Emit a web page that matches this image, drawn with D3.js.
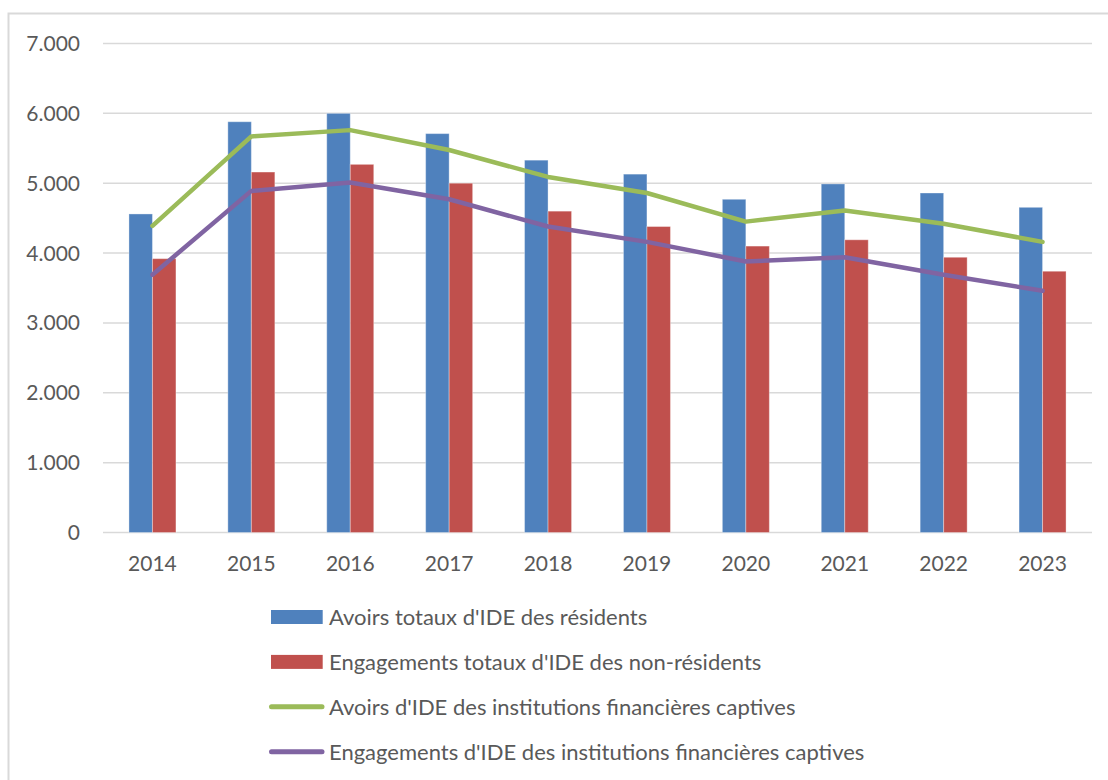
<!DOCTYPE html>
<html>
<head>
<meta charset="utf-8">
<script src="https://cdn.jsdelivr.net/npm/d3@7"></script>
<style>
    body { margin: 0; background: #fff; }
    svg { display: block; font-family: Lato, "Noto Sans", sans-serif; }
</style>
</head>
<body>
<svg id="chart" width="1108" height="780"></svg>
<script>
const years = ['2014', '2015', '2016', '2017', '2018', '2019', '2020', '2021', '2022', '2023'];
const avoirsTotaux = [4560, 5880, 6000, 5710, 5330, 5130, 4770, 4990, 4860, 4655];
const engagementsTotaux = [3920, 5160, 5270, 5000, 4600, 4380, 4100, 4190, 3940, 3740];
const avoirsCaptives = [4390, 5670, 5760, 5475, 5090, 4860, 4450, 4610, 4420, 4160];
const engagementsCaptives = [3690, 4890, 5010, 4770, 4380, 4160, 3880, 3940, 3690, 3460];
const yTicks = [0, 1000, 2000, 3000, 4000, 5000, 6000, 7000];
const legendNames = [
    "Avoirs totaux d'IDE des résidents",
    "Engagements totaux d'IDE des non-résidents",
    "Avoirs d'IDE des institutions financières captives",
    "Engagements d'IDE des institutions financières captives"
];

const colors = ['#4f81bd', '#c0504d', '#9bbb59', '#8064a2'];
const svg = d3.select('#chart');

// outer frame (only left and top edges are visible in the picture)
svg.append('rect')
    .attr('x', 8.5).attr('y', 13.5)
    .attr('width', 1300).attr('height', 1000)
    .attr('fill', 'none')
    .attr('stroke', '#d9d9d9')
    .attr('stroke-width', 2);

const plot = { left: 103, right: 1092, top: 43.5, bottom: 532.5 };

const x = d3.scaleBand()
    .domain(years)
    .range([plot.left, plot.right]);

const y = d3.scaleLinear()
    .domain([0, 7000])
    .range([plot.bottom, plot.top]);

const fmt = v => d3.format(',')(v).replace(/,/g, '.');

// gridlines
svg.append('g')
    .selectAll('line')
    .data(yTicks)
    .enter()
    .append('line')
    .attr('x1', plot.left).attr('x2', plot.right)
    .attr('y1', d => y(d)).attr('y2', d => y(d))
    .attr('stroke', '#d9d9d9')
    .attr('stroke-width', 1.5);

// y labels
svg.append('g')
    .selectAll('text')
    .data(yTicks)
    .enter()
    .append('text')
    .attr('x', 80)
    .attr('y', d => y(d))
    .attr('dy', '0.36em')
    .attr('text-anchor', 'end')
    .attr('fill', '#595959')
    .attr('font-size', 21)
    .text(d => fmt(d));

// x labels
svg.append('g')
    .selectAll('text')
    .data(years)
    .enter()
    .append('text')
    .attr('x', d => x(d) + x.bandwidth() / 2)
    .attr('y', 571)
    .attr('text-anchor', 'middle')
    .attr('fill', '#595959')
    .attr('font-size', 21)
    .text(d => d);

// bars
const barW = 23.5;
const barSeries = [avoirsTotaux, engagementsTotaux];
barSeries.forEach((values, i) => {
    svg.append('g')
        .selectAll('rect')
        .data(values)
        .enter()
        .append('rect')
        .attr('x', (d, j) => x(years[j]) + x.bandwidth() / 2 - barW + i * barW)
        .attr('y', d => y(d))
        .attr('width', barW)
        .attr('height', d => y(0) - y(d))
        .attr('fill', colors[i])
        .attr('stroke', '#ffffff')
        .attr('stroke-opacity', 0.35)
        .attr('stroke-width', 1);
});

// lines
const line = d3.line()
    .x((d, j) => x(years[j]) + x.bandwidth() / 2)
    .y(d => y(d));

[avoirsCaptives, engagementsCaptives].forEach((values, i) => {
    svg.append('path')
        .datum(values)
        .attr('d', line)
        .attr('fill', 'none')
        .attr('stroke', colors[i + 2])
        .attr('stroke-width', 4.5)
        .attr('stroke-linejoin', 'round')
        .attr('stroke-linecap', 'round');
});

// legend
const legend = svg.append('g');
const rows = legend.selectAll('g')
    .data(legendNames)
    .enter()
    .append('g')
    .attr('transform', (d, i) => `translate(271, ${617 + i * 44.9})`);

rows.filter((d, i) => i < 2)
    .append('rect')
    .attr('x', 0).attr('y', -7)
    .attr('width', 51.7).attr('height', 14)
    .attr('fill', (d, i) => colors[i]);

rows.filter((d, i) => i >= 2)
    .append('line')
    .attr('x1', 0.5).attr('x2', 51)
    .attr('y1', 0).attr('y2', 0)
    .attr('stroke', (d, i) => colors[i + 2])
    .attr('stroke-width', 5)
    .attr('stroke-linecap', 'round');

rows.append('text')
    .attr('x', 58)
    .attr('y', 0)
    .attr('dy', '0.36em')
    .attr('fill', '#595959')
    .attr('font-size', 22)
    .text(d => d);
</script>
</body>
</html>
